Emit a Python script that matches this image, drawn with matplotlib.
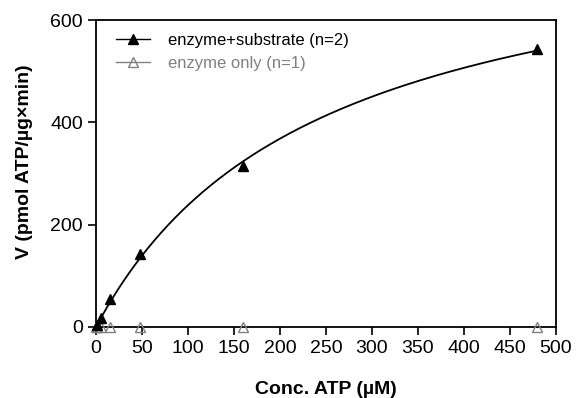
import numpy as np
import matplotlib.pyplot as plt

plt.rcParams['font.family'] = ['Liberation Sans', 'DejaVu Sans']

conc_sub = [1.5, 5, 15, 48, 160, 480]
v_sub = [4, 17, 55, 143, 315, 543]
conc_enz = [0, 1.5, 5, 15, 48, 160, 480]
v_enz = [0, 0, 0, 0, 0, 0, 0]

# Michaelis-Menten fit: v = Vmax*S/(Km+S), grid over Km, least squares for Vmax
S = np.array(conc_sub, dtype=float)
V = np.array(v_sub, dtype=float)
best = None
for km in np.linspace(50, 600, 1101):
    g = S / (km + S)
    vmax = np.dot(g, V) / np.dot(g, g)
    err = np.sum((vmax * g - V) ** 2)
    if best is None or err < best[0]:
        best = (err, vmax, km)
_, vmax, km = best


def main():
    fig = plt.figure(figsize=(5.87, 3.98), dpi=100)
    ax = fig.add_axes([0.1635, 0.1784, 0.7835, 0.7713])

    xs = np.linspace(0, 480, 400)
    ax.plot(xs, vmax * xs / (km + xs), '-', c='k', lw=1.3)
    ax.plot(conc_sub, v_sub, '^', c='k', ms=6.5, clip_on=False, zorder=4)
    ax.plot(conc_enz, v_enz, '^', mfc='none', mec='#808080', ms=6.5,
            mew=1.0, clip_on=False, zorder=3)

    # legend proxies
    h1, = ax.plot([], [], '-^', c='k', ms=6.5, lw=1.0)
    h2, = ax.plot([], [], '-^', c='#808080', mfc='none', ms=6.5, lw=1.0)
    leg = ax.legend([h1, h2], ['enzyme+substrate (n=2)', 'enzyme only (n=1)'],
                    loc='upper left', bbox_to_anchor=(0.008, 1.012),
                    frameon=False, fontsize=12,
                    handlelength=2.0, handletextpad=1.1,
                    borderaxespad=0.6, labelspacing=0.45)
    leg.get_texts()[1].set_color('#808080')

    ax.set_xlim(0, 500)
    ax.set_ylim(0, 600)
    ax.set_xticks(range(0, 501, 50))
    ax.set_yticks([0, 200, 400, 600])
    ax.tick_params(direction='out', length=6, width=1.2, labelsize=14)
    for s in ax.spines.values():
        s.set_linewidth(1.3)

    ax.set_xlabel('Conc. ATP (µM)', fontsize=14, fontweight='bold', labelpad=17)
    ax.set_ylabel('V (pmol ATP/µg×min)', fontsize=14, fontweight='bold')
    ax.yaxis.set_label_coords(-0.138, 0.54)

    fig.savefig('out.png', dpi=100)
    plt.close(fig)


if __name__ == "__main__":
    main()
